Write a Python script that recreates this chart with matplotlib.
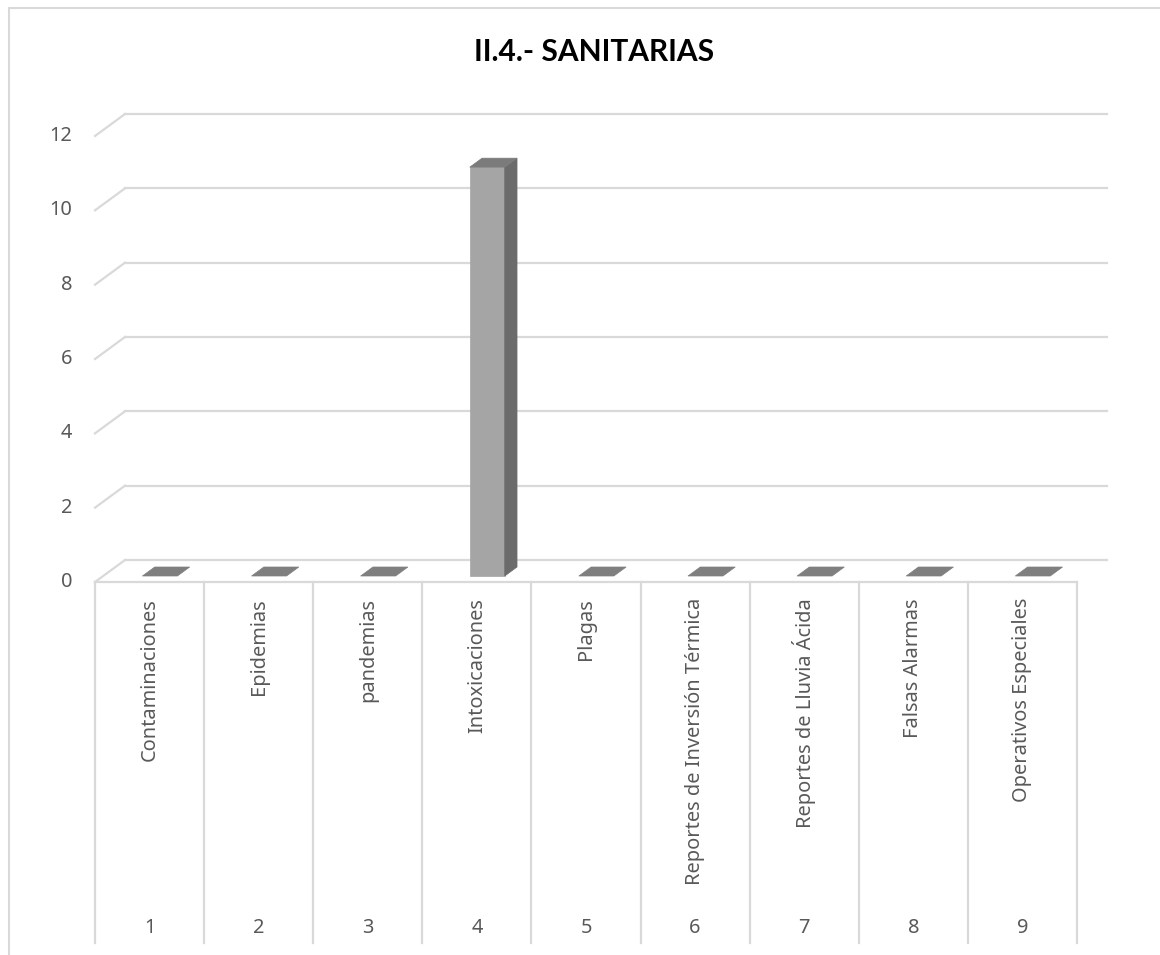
import matplotlib
matplotlib.use("Agg")
import matplotlib.pyplot as plt
from matplotlib.patches import Polygon, Rectangle
from matplotlib.lines import Line2D

# ---------------- data ----------------
categories = ["Contaminaciones", "Epidemias", "pandemias", "Intoxicaciones", "Plagas",
              "Reportes de Inversión Térmica", "Reportes de Lluvia Ácida",
              "Falsas Alarmas", "Operativos Especiales"]
numbers = ["1", "2", "3", "4", "5", "6", "7", "8", "9"]
values = [0, 0, 0, 11, 0, 0, 0, 0, 0]
yticks = [0, 2, 4, 6, 8, 10, 12]
title = "II.4.- SANITARIAS"

# ---------------- style ----------------
W, H, DPI = 1160, 955, 100
GRID = "#d9d9d9"
TXT = "#595959"
FRONT = "#a5a5a5"
SIDE = "#6b6b6b"
TOP = "#7b7b7b"
FLAT = "#7f7f7f"
FS = 14.4
FONT = "Noto Sans"

fig = plt.figure(figsize=(W / DPI, H / DPI), dpi=DPI)
fig.patch.set_facecolor("white")

# outer chart border (partially cropped)
fig.patches.append(Rectangle((9 / W, -0.1), 1.2, (955 - 8) / H + 0.1,
                             transform=fig.transFigure, fill=False,
                             edgecolor=GRID, linewidth=1.5))

# front plane of the plot
left_px, right_px = 95, 1077
y0_px, y12_px = 582, 136
ax = fig.add_axes([left_px / W, (H - y0_px) / H,
                   (right_px - left_px) / W, (y0_px - y12_px) / H])
n = len(categories)
ax.set_xlim(0.5, n + 0.5)
ax.set_ylim(0, 12)
ax.axis("off")

# pixels per data unit
px_x = (right_px - left_px) / n
px_y = (y0_px - y12_px) / 12.0
DEPTH_X, DEPTH_Y = 30 / px_x, 22 / px_y   # depth offset (back wall) in data units


def P(x, y, d):
    """point at data (x, y) pushed back by depth fraction d"""
    return (x + d * DEPTH_X, y + d * DEPTH_Y)


xl, xr = 0.5, n + 0.5
# back wall gridlines + left diagonals
for v in yticks:
    ax.add_line(Line2D(*zip(P(xl, v, 1), P(xr, v, 1)), color=GRID, lw=1.6,
                       clip_on=False, zorder=1))
    ax.add_line(Line2D(*zip(P(xl, v, 0), P(xl, v, 1)), color=GRID, lw=1.6,
                       clip_on=False, zorder=1))
    ax.text(xl - 23 / px_x, v, str(v), ha="right", va="center", color=TXT,
            fontsize=FS, family=FONT)
# floor front edge
ax.add_line(Line2D([xl, xr], [0, 0], color=GRID, lw=1.6, clip_on=False, zorder=1))

# category separators
bottom_y = -(943 - y0_px) / px_y
for i in range(n + 1):
    x = 0.5 + i
    ax.add_line(Line2D([x, x], [0, bottom_y], color=GRID, lw=1.6, clip_on=False, zorder=1))

# category labels and numbers
label_top = -(598 - y0_px) / px_y
num_y = -(928 - y0_px) / px_y
for i, (c, num) in enumerate(zip(categories, numbers)):
    x = i + 1
    ax.text(x, label_top, c, rotation=90, ha="center", va="top", color=TXT,
            fontsize=FS, family=FONT)
    ax.text(x, num_y, num, ha="center", va="center", color=TXT,
            fontsize=FS, family=FONT)

# bars (3D look)
bw = 35 / px_x
dfront, dback = 6 / 22, 15 / 22
for i, v in enumerate(values):
    xc = i + 1 + 0.02
    x0, x1 = xc - bw / 2, xc + bw / 2
    top_face = [P(x0, v, dfront), P(x1, v, dfront), P(x1, v, dback), P(x0, v, dback)]
    if v > 0:
        front = [P(x0, 0, dfront), P(x1, 0, dfront), P(x1, v, dfront), P(x0, v, dfront)]
        side = [P(x1, 0, dfront), P(x1, 0, dback), P(x1, v, dback), P(x1, v, dfront)]
        ax.add_patch(Polygon(front, closed=True, facecolor=FRONT, edgecolor=FRONT,
                             lw=0.5, clip_on=False, zorder=3))
        ax.add_patch(Polygon(side, closed=True, facecolor=SIDE, edgecolor=SIDE,
                             lw=0.5, clip_on=False, zorder=3))
        ax.add_patch(Polygon(top_face, closed=True, facecolor=TOP, edgecolor=TOP,
                             lw=0.5, clip_on=False, zorder=3))
    else:
        ax.add_patch(Polygon(top_face, closed=True, facecolor=FLAT, edgecolor=FLAT,
                             lw=0.5, clip_on=False, zorder=3))

fig.text(594 / W, 1 - 52 / H, title, ha="center", va="center",
         fontsize=21.5, fontweight="bold", family="Lato", color="black")

fig.savefig("out.png", dpi=DPI, facecolor="white")
